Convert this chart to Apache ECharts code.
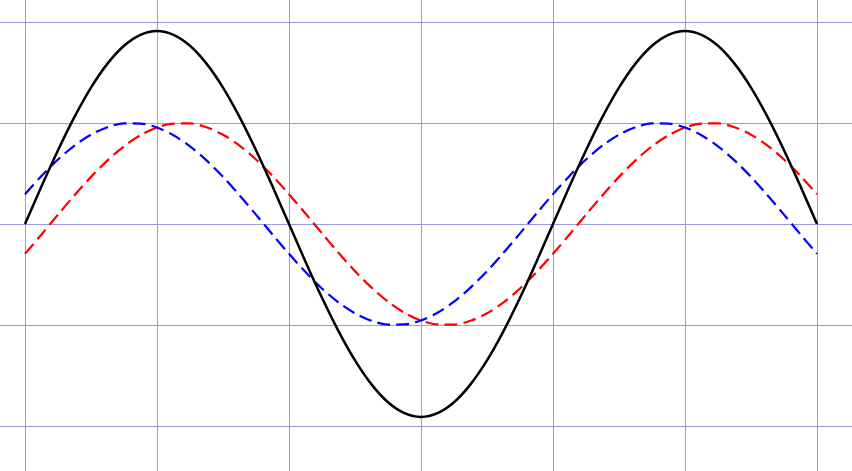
<!DOCTYPE html>
<html>
<head>
<meta charset="utf-8">
<script src="https://cdn.jsdelivr.net/npm/echarts@6/dist/echarts.min.js"></script>
<style>
html,body{margin:0;padding:0;background:#fff;overflow:hidden;width:852px;height:471px;}
#chart{position:absolute;left:-107px;top:-79px;width:1056px;height:606px;}
</style>
</head>
<body>
<div id="chart"></div>
<script>
// x positions in grid units (one grid cell = a quarter period), step 1/8
const xValues = [0,0.125,0.25,0.375,0.5,0.625,0.75,0.875,1,1.125,1.25,1.375,1.5,1.625,1.75,1.875,2,
  2.125,2.25,2.375,2.5,2.625,2.75,2.875,3,3.125,3.25,3.375,3.5,3.625,3.75,3.875,4,
  4.125,4.25,4.375,4.5,4.625,4.75,4.875,5,5.125,5.25,5.375,5.5,5.625,5.75,5.875,6];
// solid black curve
const blackValues = [0,0.373,0.731,1.061,1.351,1.588,1.765,1.873,1.91,1.873,1.765,1.588,1.351,1.061,0.731,0.373,0,
  -0.373,-0.731,-1.061,-1.351,-1.588,-1.765,-1.873,-1.91,-1.873,-1.765,-1.588,-1.351,-1.061,-0.731,-0.373,0,
  0.373,0.731,1.061,1.351,1.588,1.765,1.873,1.91,1.873,1.765,1.588,1.351,1.061,0.731,0.373,0];
// dashed blue curve (leading)
const blueValues = [0.2955,0.4763,0.6387,0.7765,0.8845,0.9585,0.9957,0.9946,0.9553,0.8793,0.7695,0.6301,0.4666,0.2850,0.0925,-0.1035,
  -0.2955,-0.4763,-0.6387,-0.7765,-0.8845,-0.9585,-0.9957,-0.9946,-0.9553,-0.8793,-0.7695,-0.6301,-0.4666,-0.2850,-0.0925,0.1035,
  0.2955,0.4763,0.6387,0.7765,0.8845,0.9585,0.9957,0.9946,0.9553,0.8793,0.7695,0.6301,0.4666,0.2850,0.0925,-0.1035,
  -0.2955];
// dashed red curve (lagging)
const redValues = [-0.2955,-0.1035,0.0925,0.2850,0.4666,0.6301,0.7695,0.8793,0.9553,0.9946,0.9957,0.9585,0.8845,0.7765,0.6387,0.4763,
  0.2955,0.1035,-0.0925,-0.2850,-0.4666,-0.6301,-0.7695,-0.8793,-0.9553,-0.9946,-0.9957,-0.9585,-0.8845,-0.7765,-0.6387,-0.4763,
  -0.2955,-0.1035,0.0925,0.2850,0.4666,0.6301,0.7695,0.8793,0.9553,0.9946,0.9957,0.9585,0.8845,0.7765,0.6387,0.4763,
  0.2955];

function pairs(ys){ return xValues.map((x,i)=>[x, ys[i]]); }

const chart = echarts.init(document.getElementById('chart'), null, {renderer:'canvas'});
const gridColor = '#9a9ae6';
chart.setOption({
  animation:false,
  backgroundColor:'#ffffff',
  grid:{left:0, right:0, top:0, bottom:0, containLabel:false},
  xAxis:{
    type:'value', min:-1, max:7, interval:1,
    axisLine:{show:false}, axisTick:{show:false}, axisLabel:{show:false},
    splitLine:{show:true, lineStyle:{color:gridColor, width:1}}
  },
  yAxis:{
    type:'value', min:-3, max:3, interval:1,
    axisLine:{show:false}, axisTick:{show:false}, axisLabel:{show:false},
    splitLine:{show:true, lineStyle:{color:gridColor, width:1}}
  },
  series:[
    {type:'line', data:pairs(redValues), smooth:0.3, showSymbol:false, symbol:'none',
     lineStyle:{color:'#ff0000', width:2.2, type:[13,6]}},
    {type:'line', data:pairs(blueValues), smooth:0.3, showSymbol:false, symbol:'none',
     lineStyle:{color:'#0000ff', width:2.2, type:[13,6]}},
    {type:'line', data:pairs(blackValues), smooth:0.3, showSymbol:false, symbol:'none',
     lineStyle:{color:'#000000', width:2.5, type:'solid'}}
  ]
});
</script>
</body>
</html>
